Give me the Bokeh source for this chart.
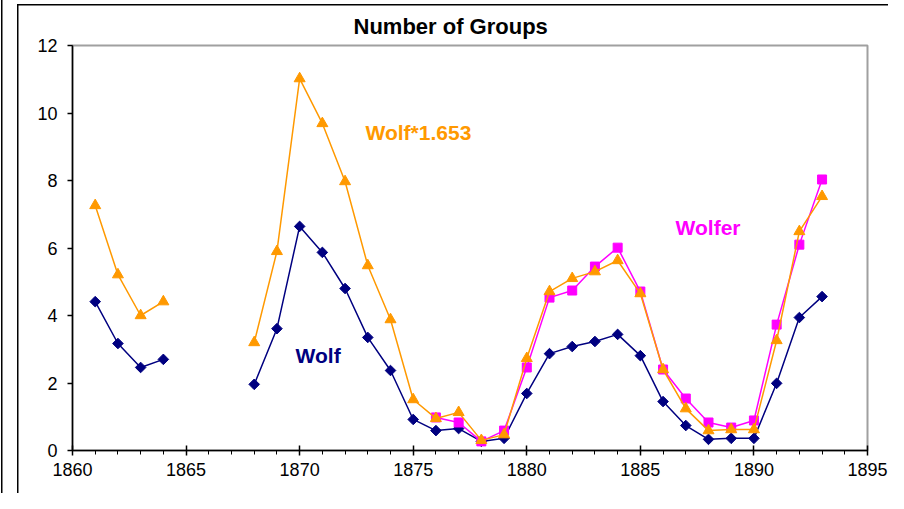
import numpy as np
from bokeh.plotting import figure
from bokeh.models import Label, FixedTicker, Range1d
from bokeh.embed import file_html
from bokeh.resources import INLINE

# ---- data ----
years_wolf = [1861, 1862, 1863, 1864,
              1868, 1869, 1870, 1871, 1872, 1873, 1874, 1875, 1876, 1877, 1878, 1879,
              1880, 1881, 1882, 1883, 1884, 1885, 1886, 1887, 1888, 1889, 1890, 1891,
              1892, 1893]
wolf = [4.41, 3.17, 2.46, 2.70,
        1.96, 3.61, 6.64, 5.87, 4.80, 3.35, 2.37, 0.92, 0.59, 0.65, 0.27, 0.36,
        1.69, 2.87, 3.08, 3.23, 3.44, 2.81, 1.45, 0.74, 0.33, 0.36, 0.36, 1.99,
        3.94, 4.56]
wolf_scaled = [7.26, 5.21, 4.00, 4.41,
               3.20, 5.90, 11.02, 9.69, 7.97, 5.48, 3.88, 1.51, 0.95, 1.13, 0.30, 0.47,
               2.73, 4.71, 5.10, 5.30, 5.63, 4.65, 2.40, 1.24, 0.59, 0.62, 0.62, 3.26,
               6.49, 7.53]
years_wolfer = [1876, 1877, 1878, 1879, 1880, 1881, 1882, 1883, 1884, 1885, 1886,
                1887, 1888, 1889, 1890, 1891, 1892, 1893]
wolfer = [0.98, 0.83, 0.27, 0.59, 2.46, 4.53, 4.74, 5.45, 6.01, 4.71, 2.40,
          1.54, 0.83, 0.68, 0.89, 3.73, 6.10, 8.03]

x_ticks = [1860, 1865, 1870, 1875, 1880, 1885, 1890, 1895]
y_ticks = [0, 2, 4, 6, 8, 10, 12]

title_text = "Number of Groups"
label_wolf = "Wolf"
label_scaled = "Wolf*1.653"
label_wolfer = "Wolfer"

NAVY = "#000080"
ORANGE = "#FF9900"
MAGENTA = "#FF00FF"
FONT = "Liberation Sans"


def with_gaps(xs, ys):
    """Insert NaN where years are not consecutive so the line breaks."""
    gx, gy = [], []
    for i, (x, y) in enumerate(zip(xs, ys)):
        if i > 0 and x - xs[i - 1] > 1:
            gx.append(np.nan)
            gy.append(np.nan)
        gx.append(x)
        gy.append(y)
    return gx, gy


p = figure(width=888, height=493, output_backend="svg", toolbar_location=None,
           x_range=Range1d(1860, 1895), y_range=Range1d(0, 12),
           min_border_left=72, min_border_right=21, min_border_top=45,
           min_border_bottom=43)

p.background_fill_color = "white"
p.border_fill_alpha = 0
p.outline_line_color = "#a0a0a0"
p.outline_line_width = 2
p.grid.visible = False
# outer chart frame lines (drawn behind the transparent border area)
p.styles = {
    "background": ("linear-gradient(#000,#000) 1px 0px / 1.5px 100% no-repeat, "
                   "linear-gradient(#000,#000) 17px 4px / 1.5px 100% no-repeat, "
                   "linear-gradient(#000,#000) 17px 4px / 100% 1.5px no-repeat, "
                   "white"),
}

# title
p.title.text = title_text
p.title.text_font = FONT
p.title.text_font_style = "bold"
p.title.text_font_size = "22px"
p.title.text_color = "black"
p.title.align = "left"
p.title.offset = 281
p.title.standoff = 14

# axes
p.xaxis.ticker = FixedTicker(ticks=x_ticks, minor_ticks=list(range(1860, 1896)))
p.yaxis.ticker = FixedTicker(ticks=y_ticks, minor_ticks=[])
for ax in (p.xaxis[0], p.yaxis[0]):
    ax.axis_line_color = "black"
    ax.axis_line_width = 1.5
    ax.major_tick_line_color = "black"
    ax.major_tick_line_width = 1.5
    ax.minor_tick_line_color = "black"
    ax.major_label_text_font = FONT
    ax.major_label_text_font_size = "18px"
    ax.major_label_text_color = "black"
p.xaxis.major_tick_in = 5
p.xaxis.major_tick_out = 5
p.xaxis.minor_tick_in = 0
p.xaxis.minor_tick_out = 4
p.xaxis.major_label_standoff = 7
p.yaxis.major_tick_in = 0
p.yaxis.major_tick_out = 5
p.yaxis.minor_tick_in = 0
p.yaxis.minor_tick_out = 0
p.yaxis.major_label_standoff = 10

# series
wx, wy = with_gaps(years_wolf, wolf)
p.line(wx, wy, line_color=NAVY, line_width=1.5)
p.scatter(years_wolf, wolf, marker="square", angle=np.pi / 4, size=7.5,
          fill_color=NAVY, line_color=NAVY)

p.line(years_wolfer, wolfer, line_color=MAGENTA, line_width=1.5)
p.scatter(years_wolfer, wolfer, marker="square", size=9,
          fill_color=MAGENTA, line_color=MAGENTA)

sx, sy = with_gaps(years_wolf, wolf_scaled)
p.line(sx, sy, line_color=ORANGE, line_width=1.5)
p.scatter(years_wolf, wolf_scaled, marker="triangle", size=11,
          fill_color=ORANGE, line_color=ORANGE)

# text labels
p.add_layout(Label(x=1872.9, y=9.42, text=label_scaled, text_color=ORANGE,
                   text_font=FONT, text_font_style="bold", text_font_size="21px",
                   text_baseline="middle", text_align="left"))
p.add_layout(Label(x=1869.82, y=2.81, text=label_wolf, text_color=NAVY,
                   text_font=FONT, text_font_style="bold", text_font_size="21px",
                   text_baseline="middle", text_align="left"))
p.add_layout(Label(x=1886.55, y=6.62, text=label_wolfer, text_color=MAGENTA,
                   text_font=FONT, text_font_style="bold", text_font_size="21px",
                   text_baseline="middle", text_align="left"))

open("out.html", "w").write(file_html(p, INLINE))
